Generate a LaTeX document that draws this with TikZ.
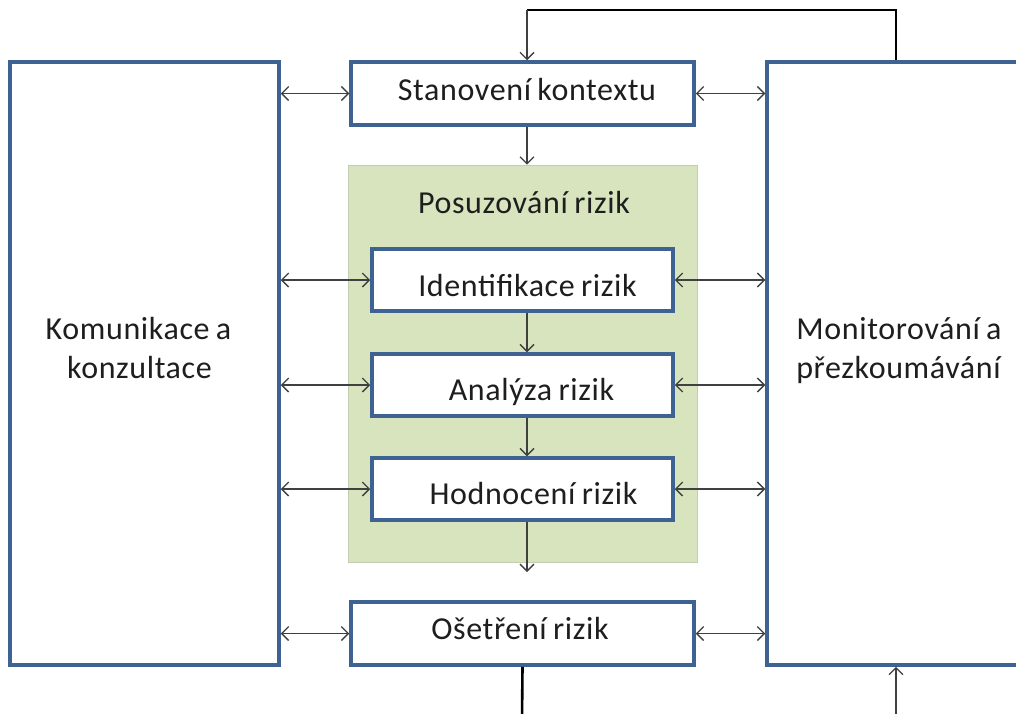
\documentclass[tikz,border=0pt]{standalone}
\usepackage{fontspec}
\setmainfont{Carlito}[LetterSpace=2, WordSpace=0.8]
\usetikzlibrary{arrows.meta}
\definecolor{frameblue}{HTML}{3E6292}
\definecolor{sage}{HTML}{D7E4BD}
\definecolor{sageedge}{HTML}{C4CCB4}
\definecolor{ink}{HTML}{1E1E1E}
\begin{document}
\begin{tikzpicture}[x=1pt,y=-1pt,
  every node/.style={font=\fontsize{32}{39}\selectfont, text=ink},
  frame/.style={draw=frameblue, line width=3.5pt, fill=white, rectangle, inner sep=0pt, align=center},
  caption/.style={anchor=base, inner sep=0pt},
  link/.style={draw=ink!85, line width=1.4pt, -{Straight Barb[length=7pt,width=14pt,line width=1.3pt]}},
  twoway/.style={draw=ink!85, line width=1.4pt, {Straight Barb[length=7pt,width=14pt,line width=1.3pt]}-{Straight Barb[length=7pt,width=14pt,line width=1.3pt]}},
  feed/.style={draw=black, line width=2.6pt}
]
\clip (0,0) rectangle (1016,713);
\fill[white] (0,0) rectangle (1016,713);

% side panels
\node[frame, minimum width=269pt, minimum height=603pt] (com) at (144.5,363.5) {};
\node[frame, minimum width=258pt, minimum height=603pt] (mon) at (896,363.5) {};
\node[caption] (comA) at (138.5,339) {Komunikace a};
\node[caption] (comB) at (139.5,378) {konzultace};
\node[caption] (monA) at (899,339) {Monitorování a};
\node[caption] (monB) at (898.5,378) {přezkoumávání};

% risk assessment group
\node[draw=sageedge, line width=0.6pt, fill=sage, minimum width=349pt, minimum height=397pt, inner sep=0pt] (grp) at (522.5,363.5) {};
\node[caption] (grptitle) at (524,213) {Posuzování rizik};

% process steps
\node[frame, minimum width=343pt, minimum height=63pt, text height=29pt, text depth=15pt] (ctx) at (522.5,93.5) {\hspace*{9pt}Stanovení kontextu};
\node[frame, minimum width=301pt, minimum height=62pt, text height=38pt, text depth=6pt] (ide) at (522.5,280) {\hspace*{10pt}Identifikace rizik};
\node[frame, minimum width=301pt, minimum height=62pt, text height=37pt, text depth=7pt] (ana) at (522.5,385) {\hspace*{18pt}Analýza rizik};
\node[frame, minimum width=301pt, minimum height=62pt, text height=37pt, text depth=6pt] (hod) at (522.5,489) {\hspace*{22pt}Hodnocení rizik};
\node[frame, minimum width=343pt, minimum height=63pt, text height=28pt, text depth=16pt] (trt) at (522.5,633.5) {Ošetření rizik\hspace*{5pt}};

% feedback loop over the top
\coordinate (topL) at (527,10);
\draw[feed] (mon.north) |- (topL);
\draw[link] (topL) -- (topL |- ctx.north);

% flow down the middle
\draw[link] ([xshift=4.5pt]ctx.south) -- ([xshift=4.5pt]ctx.south |- grp.north);
\draw[link] ([xshift=4.5pt]ide.south) -- ([xshift=4.5pt]ana.north);
\draw[link] ([xshift=4.5pt]ana.south) -- ([xshift=4.5pt]hod.north);
\coordinate (hodEnd) at (527,572);
\draw[link] ([xshift=4.5pt]hod.south) -- (hodEnd);

% lines leaving at the bottom
\coordinate (botL) at (522,720);
\coordinate (botR) at (896,720);
\draw[feed] (trt.south) -- (botL);
\draw[link] (botR) -- (mon.south);

% two-way links to the side panels
\draw[twoway] (com.east |- ctx.west) -- (ctx.west);
\draw[twoway] (ctx.east) -- (mon.west |- ctx.east);
\draw[twoway] (com.east |- ide.west) -- (ide.west);
\draw[twoway] (ide.east) -- (mon.west |- ide.east);
\draw[twoway] (com.east |- ana.west) -- (ana.west);
\draw[twoway] (ana.east) -- (mon.west |- ana.east);
\draw[twoway] (com.east |- hod.west) -- (hod.west);
\draw[twoway] (hod.east) -- (mon.west |- hod.east);
\draw[twoway] (com.east |- trt.west) -- (trt.west);
\draw[twoway] (trt.east) -- (mon.west |- trt.east);
\end{tikzpicture}
\end{document}
